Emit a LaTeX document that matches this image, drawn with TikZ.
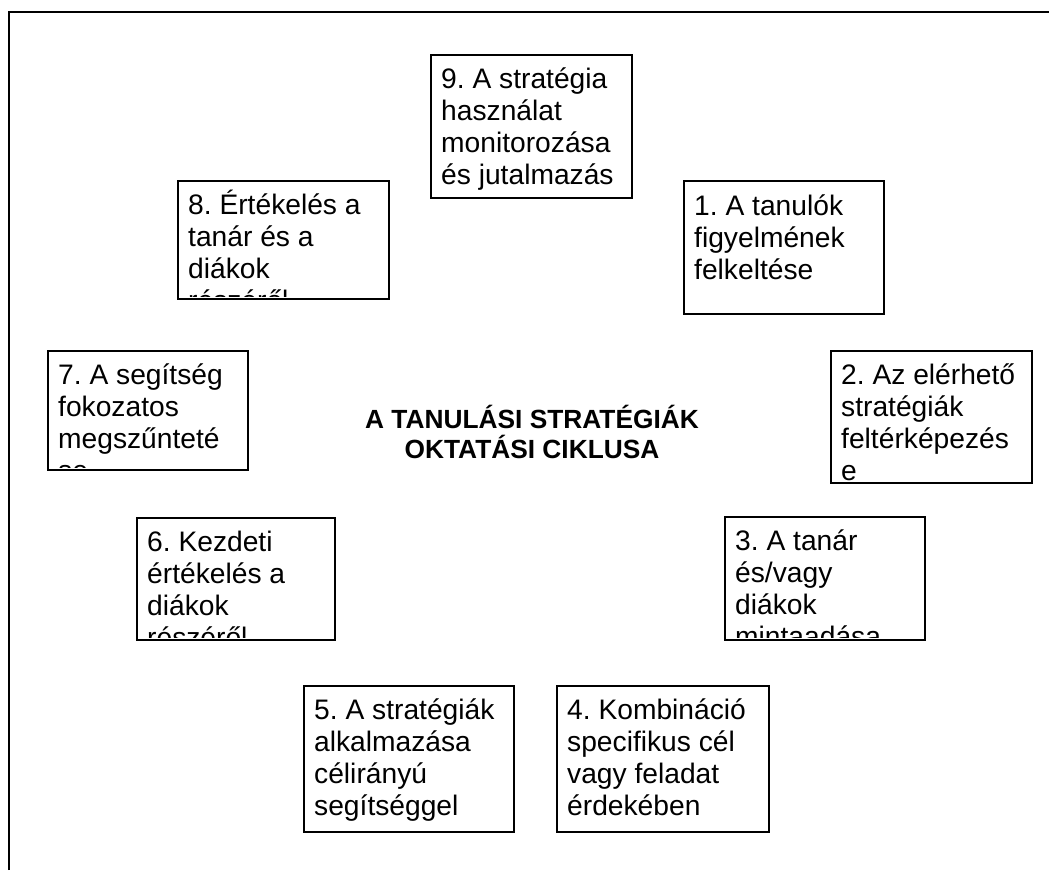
\documentclass[tikz,border=0pt]{standalone}
\usepackage{fontspec}
\setmainfont{Liberation Sans}
\frenchspacing
\begin{document}
\begin{tikzpicture}[x=1pt,y=-1pt,
  stepbox/.style={draw=black, line width=1.6pt, rectangle, inner sep=0pt, anchor=north west},
  boxtext/.style={anchor=north west, inner sep=0pt, align=left, font=\fontsize{28.2}{32}\selectfont},
  titletext/.style={align=center, inner sep=0pt, font=\fontsize{26.3}{29.5}\selectfont\bfseries}]
\useasboundingbox[fill=white] (0,0) rectangle (1049,870);
% outer frame (open at right and bottom)
\draw[line width=2pt] (9,870) -- (9,12) -- (1049,12);
% boxes
\node[stepbox, minimum width=201pt, minimum height=143pt] (b9) at (430,54) {};
\node[stepbox, minimum width=211pt, minimum height=118pt] (b8) at (177,180) {};
\node[stepbox, minimum width=200pt, minimum height=133pt] (b1) at (683,180) {};
\node[stepbox, minimum width=200pt, minimum height=119pt] (b7) at (47,350) {};
\node[stepbox, minimum width=201pt, minimum height=132pt] (b2) at (830,350) {};
\node[stepbox, minimum width=198pt, minimum height=122pt] (b6) at (136,517) {};
\node[stepbox, minimum width=200pt, minimum height=123pt] (b3) at (724,516) {};
\node[stepbox, minimum width=210pt, minimum height=146pt] (b5) at (303,685) {};
\node[stepbox, minimum width=212pt, minimum height=146pt] (b4) at (556,685) {};
% texts (clipped to their boxes)
\begin{scope}
\clip (b9.north west) rectangle ([yshift=3pt]b9.south east);
\node[boxtext] (t9) at ([shift={(11,8)}]b9.north west) {\rule{0pt}{26pt}9. A stratégia\\használat\\monitorozása\\és jutalmazás};
\end{scope}
\begin{scope}
\clip (b8.north west) rectangle ([yshift=3pt]b8.south east);
\node[boxtext] (t8) at ([shift={(11,8)}]b8.north west) {\rule{0pt}{26pt}8. Értékelés a\\tanár és a\\diákok\\részéről};
\end{scope}
\begin{scope}
\clip (b1.north west) rectangle ([yshift=3pt]b1.south east);
\node[boxtext] (t1) at ([shift={(11,9)}]b1.north west) {\rule{0pt}{26pt}1. A tanulók\\figyelmének\\felkeltése};
\end{scope}
\begin{scope}
\clip (b7.north west) rectangle ([yshift=3pt]b7.south east);
\node[boxtext] (t7) at ([shift={(11,8)}]b7.north west) {\rule{0pt}{26pt}7. A segítség\\fokozatos\\megszűnteté\\se};
\end{scope}
\begin{scope}
\clip (b2.north west) rectangle ([yshift=3pt]b2.south east);
\node[boxtext] (t2) at ([shift={(11,8)}]b2.north west) {\rule{0pt}{26pt}2. Az elérhető\\stratégiák\\feltérképezés\\e};
\end{scope}
\begin{scope}
\clip (b6.north west) rectangle ([yshift=3pt]b6.south east);
\node[boxtext] (t6) at ([shift={(11,8)}]b6.north west) {\rule{0pt}{26pt}6. Kezdeti\\értékelés a\\diákok\\részéről};
\end{scope}
\begin{scope}
\clip (b3.north west) rectangle ([yshift=3pt]b3.south east);
\node[boxtext] (t3) at ([shift={(11,8)}]b3.north west) {\rule{0pt}{26pt}3. A tanár\\és/vagy\\diákok\\mintaadása};
\end{scope}
\begin{scope}
\clip (b5.north west) rectangle ([yshift=3pt]b5.south east);
\node[boxtext] (t5) at ([shift={(11,8)}]b5.north west) {\rule{0pt}{26pt}5. A stratégiák\\alkalmazása\\célirányú\\segítséggel};
\end{scope}
\begin{scope}
\clip (b4.north west) rectangle ([yshift=3pt]b4.south east);
\node[boxtext] (t4) at ([shift={(11,8)}]b4.north west) {\rule{0pt}{26pt}4. Kombináció\\specifikus cél\\vagy feladat\\érdekében};
\end{scope}
% title
\node[titletext] (title) at (532,432) {A TANULÁSI STRATÉGIÁK\\OKTATÁSI CIKLUSA};
\end{tikzpicture}
\end{document}
